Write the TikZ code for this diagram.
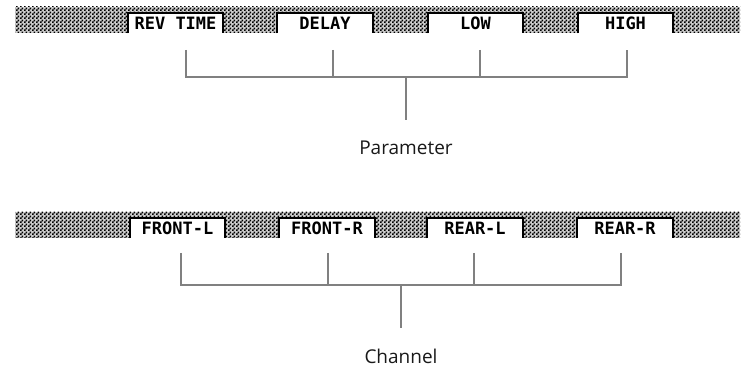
\documentclass[tikz,border=0pt]{standalone}
\usepackage{fontspec}
\setmainfont{Open Sans}
\newfontfamily\lcdfont{DejaVu Sans Mono}
\usepackage{tikz}
\usetikzlibrary{patterns}
\pgfdeclarepatternformonly{lcdcheck}{\pgfqpoint{0pt}{0pt}}{\pgfqpoint{2pt}{2pt}}{\pgfqpoint{2pt}{2pt}}{%
  \pgfpathrectangle{\pgfqpoint{0pt}{0pt}}{\pgfqpoint{1pt}{1pt}}%
  \pgfpathrectangle{\pgfqpoint{1pt}{1pt}}{\pgfqpoint{1pt}{1pt}}%
  \pgfusepath{fill}}
\tikzset{
  lcdbar/.style={pattern=lcdcheck,pattern color=black},
  lcdbox/.style={fill=white,minimum width=47.5pt,minimum height=10pt,inner sep=0pt,
    font=\lcdfont\bfseries\fontsize{8.5}{9}\selectfont},
  lcdedge/.style={line width=1pt,black},
  tick/.style={line width=1pt,black!50},
  caption/.style={font=\fontsize{9.5}{11}\selectfont,black!90}
}

\begin{document}
\begin{tikzpicture}[x=0.5pt,y=-0.5pt]
\useasboundingbox (0,0) rectangle (742,367);
% Parameter bar
\fill [black!20] (15,7) rectangle (740,33);
\fill [lcdbar] (15,7) rectangle (740,33);
\node at (175.5,23) [lcdbox] (RevTime) {REV TIME};
\node at (325,23) [lcdbox] (Delay) {DELAY};
\node at (475.5,23) [lcdbox] (Low) {LOW};
\node at (625.5,23) [lcdbox] (High) {HIGH};
\draw [lcdedge] (RevTime.south west) |- (RevTime.north east) -- (RevTime.south east);
\draw [lcdedge] (Delay.south west) |- (Delay.north east) -- (Delay.south east);
\draw [lcdedge] (Low.south west) |- (Low.north east) -- (Low.south east);
\draw [lcdedge] (High.south west) |- (High.north east) -- (High.south east);
% Channel bar
\fill [black!20] (15,212) rectangle (740,238);
\fill [lcdbar] (15,212) rectangle (740,238);
\node at (177.5,228) [lcdbox] (FrontL) {FRONT-L};
\node at (327,228) [lcdbox] (FrontR) {FRONT-R};
\node at (475,228) [lcdbox] (RearL) {REAR-L};
\node at (625,228) [lcdbox] (RearR) {REAR-R};
\draw [lcdedge] (FrontL.south west) |- (FrontL.north east) -- (FrontL.south east);
\draw [lcdedge] (FrontR.south west) |- (FrontR.north east) -- (FrontR.south east);
\draw [lcdedge] (RearL.south west) |- (RearL.north east) -- (RearL.south east);
\draw [lcdedge] (RearR.south west) |- (RearR.north east) -- (RearR.south east);
% Tick Points
\coordinate (PTick1) at (186,50);
\coordinate (PTick2) at (333,50);
\coordinate (PTick3) at (480,50);
\coordinate (PTick4) at (627,50);
\coordinate (PJoin) at (406,77);
\coordinate (CTick1) at (181,253);
\coordinate (CTick2) at (328,253);
\coordinate (CTick3) at (474,253);
\coordinate (CTick4) at (621,253);
\coordinate (CJoin) at (401,285);
% Labels
\node at (406,148) [caption] (Param) {Parameter};
\node at (401,356) [caption] (Chan) {Channel};
% Brackets
\draw [tick] (PTick1) |- (PTick4 |- PJoin) -- (PTick4);
\draw [tick] (PTick2) -- (PTick2 |- PJoin);
\draw [tick] (PTick3) -- (PTick3 |- PJoin);
\draw [tick] (PJoin) -- ([yshift=7pt]Param.north);
\draw [tick] (CTick1) |- (CTick4 |- CJoin) -- (CTick4);
\draw [tick] (CTick2) -- (CTick2 |- CJoin);
\draw [tick] (CTick3) -- (CTick3 |- CJoin);
\draw [tick] (CJoin) -- ([yshift=7pt]Chan.north);
\end{tikzpicture}
\end{document}
